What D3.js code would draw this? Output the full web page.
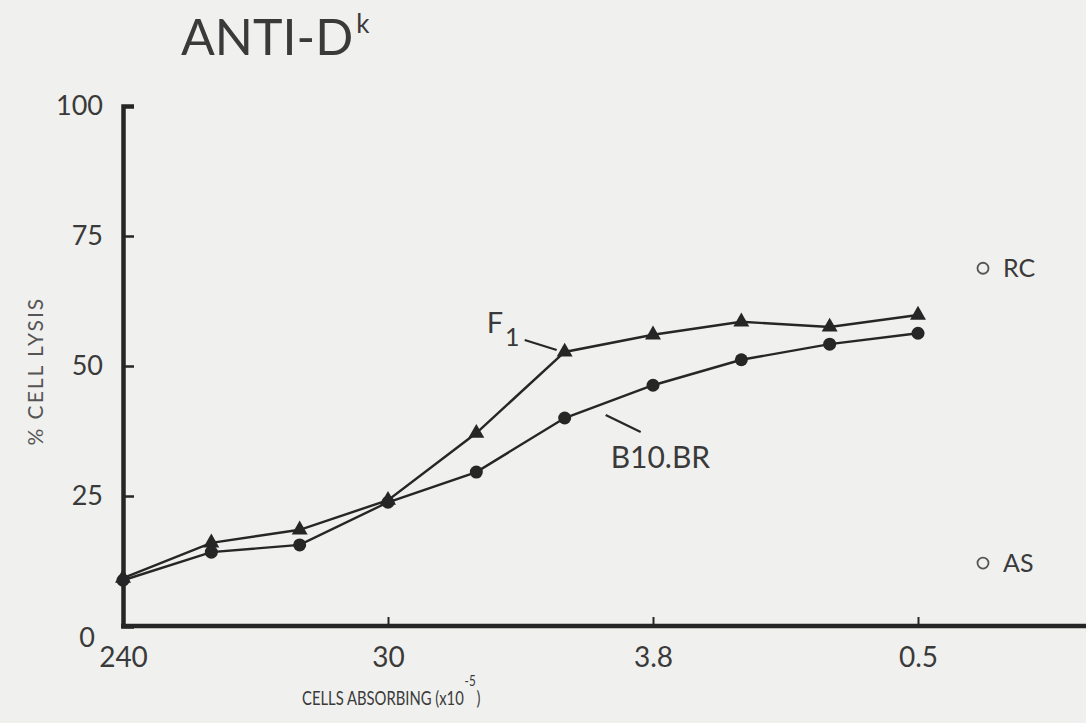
<!DOCTYPE html>
<html>
<head>
<meta charset="utf-8">
<script src="https://cdn.jsdelivr.net/npm/d3@7"></script>
<style>
  html, body { margin: 0; padding: 0; background: #f0f0ee; }
  svg { display: block; }
</style>
</head>
<body>
<svg id="chart" width="1086" height="723"></svg>
<script>
// Dilution series of absorbing cells (x10^-5), two-fold steps
const categories = ["240", "120", "60", "30", "15", "7.5", "3.8", "1.9", "0.95", "0.5"];
const xTickLabels = ["240", "30", "3.8", "0.5"];
const yTickValues = [0, 25, 50, 75, 100];

// % cell lysis after absorption
const f1Values  = [9.2, 16.0, 18.5, 24.2, 37.1, 52.7, 56.0, 58.5, 57.5, 59.8];
const b10Values = [8.8, 14.2, 15.6, 23.8, 29.6, 40.0, 46.3, 51.2, 54.2, 56.3];

// Unabsorbed controls
const controlNames  = ["RC", "AS"];
const controlValues = [68.8, 12.1];

const W = 1086, H = 723;
const ink = "#262626", textInk = "#3a3a3a";
const font = "Lato, 'Open Sans', sans-serif";

const svg = d3.select("#chart");

const x = d3.scalePoint().domain(categories).range([123, 918]);
const y = d3.scaleLinear().domain([0, 100]).range([626, 106]);

// Title
const title = svg.append("text")
  .attr("x", 181).attr("y", 55)
  .attr("font-family", font)
  .attr("font-size", 50)
  .attr("fill", textInk);
title.append("tspan").text("ANTI-D");
title.append("tspan").attr("font-size", 26).attr("dy", -22).attr("dx", 3).text("k");

// Y axis
const yAxis = svg.append("g")
  .attr("transform", `translate(${x(categories[0])},0)`)
  .call(d3.axisLeft(y).tickValues(yTickValues).tickSize(-11).tickPadding(20));
yAxis.select(".domain").attr("stroke", ink).attr("stroke-width", 4.5);
yAxis.selectAll(".tick line").attr("stroke", ink).attr("stroke-width", 2.5)
  .filter(d => d === 0).remove();
yAxis.selectAll(".tick text")
  .attr("font-family", font)
  .attr("font-size", 27).attr("fill", textInk)
  .filter(d => d === 0).attr("dy", "0.75em").attr("dx", -8);

// X axis
const xAxis = svg.append("g")
  .attr("transform", `translate(0,${y(0)})`)
  .call(d3.axisBottom(x).tickValues(xTickLabels).tickSize(-9).tickPadding(21));
xAxis.select(".domain").remove();
xAxis.append("line")
  .attr("x1", x(categories[0]) - 2).attr("x2", W)
  .attr("stroke", ink).attr("stroke-width", 4.5);
xAxis.selectAll(".tick line").attr("stroke", ink).attr("stroke-width", 2)
  .filter(d => d === categories[0]).remove();
xAxis.selectAll(".tick text")
  .attr("font-family", font)
  .attr("font-size", 28).attr("fill", textInk);

// Axis titles (x title set in a condensed width)
const xt = svg.append("text")
  .attr("transform", "translate(302,705) scale(0.78,1)")
  .attr("font-family", font)
  .attr("font-size", 19).attr("fill", textInk);
xt.append("tspan").text("CELLS ABSORBING (x10");
xt.append("tspan").attr("dy", -19).attr("dx", 1).attr("font-size", 15).text("-5");
xt.append("tspan").attr("dy", 19).attr("dx", 1).text(")");

svg.append("text")
  .attr("transform", `translate(43,${y(49)}) rotate(-90)`)
  .attr("text-anchor", "middle")
  .attr("font-family", font)
  .attr("font-size", 21).attr("letter-spacing", 2)
  .attr("fill", "#555")
  .text("% CELL LYSIS");

// Series lines
const line = d3.line().x((d, i) => x(categories[i])).y(d => y(d));
[f1Values, b10Values].forEach(vals => {
  svg.append("path")
    .attr("d", line(vals))
    .attr("fill", "none").attr("stroke", ink).attr("stroke-width", 2.4);
});

// F1 markers: filled triangles
svg.append("g").selectAll("path")
  .data(f1Values).join("path")
  .attr("transform", (d, i) => `translate(${x(categories[i])},${y(d)})`)
  .attr("d", d3.symbol(d3.symbolTriangle, 110))
  .attr("fill", ink);

// B10.BR markers: filled circles
svg.append("g").selectAll("circle")
  .data(b10Values).join("circle")
  .attr("cx", (d, i) => x(categories[i]))
  .attr("cy", d => y(d))
  .attr("r", 6.5)
  .attr("fill", ink);

// Series labels with leader lines
const fp = [x(categories[5]), y(f1Values[5])];
svg.append("line")
  .attr("x1", fp[0] - 40).attr("y1", fp[1] - 12)
  .attr("x2", fp[0] - 8).attr("y2", fp[1] - 2)
  .attr("stroke", ink).attr("stroke-width", 2.2);
const fl = svg.append("text")
  .attr("x", fp[0] - 78).attr("y", fp[1] - 19)
  .attr("font-family", font)
  .attr("font-size", 29).attr("fill", textInk);
fl.append("tspan").text("F");
fl.append("tspan").attr("dy", 13).attr("dx", 2).attr("font-size", 25).text("1");

const bp = [x(categories[5]), y(b10Values[5])];
svg.append("line")
  .attr("x1", bp[0] + 41).attr("y1", bp[1] - 3)
  .attr("x2", bp[0] + 76).attr("y2", bp[1] + 14)
  .attr("stroke", ink).attr("stroke-width", 2.2);
svg.append("text")
  .attr("x", bp[0] + 46).attr("y", bp[1] + 50)
  .attr("font-family", font)
  .attr("font-size", 30).attr("fill", textInk)
  .text("B10.BR");

// Control points: open circles beside the plot
const cx0 = x(categories[categories.length - 1]) + 65;
const ctrl = svg.append("g").selectAll("g")
  .data(controlNames).join("g")
  .attr("transform", (d, i) => `translate(${cx0},${y(controlValues[i])})`);
ctrl.append("circle")
  .attr("r", 5.5).attr("fill", "none")
  .attr("stroke", "#555").attr("stroke-width", 1.8);
ctrl.append("text")
  .attr("x", 20).attr("dy", "0.36em")
  .attr("font-family", font)
  .attr("font-size", 25).attr("fill", textInk)
  .text(d => d);
</script>
</body>
</html>
